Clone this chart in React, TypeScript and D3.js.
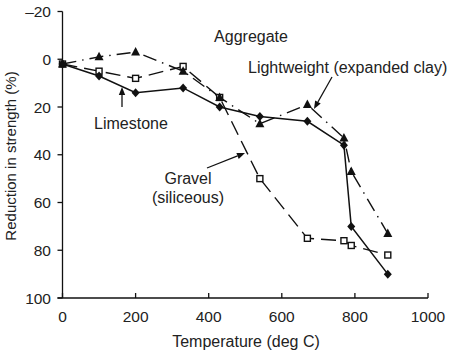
import React from "react";
import * as d3 from "d3";

const temps = [0, 100, 200, 330, 430, 540, 670, 770, 790, 890];
const limestone = [2, 7, 14, 12, 20, 24, 26, 36, 70, 90];
const gravel = [2, 5, 8, 3, 16, 50, 75, 76, 78, 82];
const lightweight = [2, -1, -3, 5, 16, 27, 19, 33, 47, 73];
const xTicks = [0, 200, 400, 600, 800, 1000];
const yTicks = [-20, 0, 20, 40, 60, 80, 100];

const W = 454, H = 353;
const FONT = "'Liberation Sans', Arial, Helvetica, sans-serif";

export default function App() {
  const x = d3.scaleLinear().domain([0, 1000]).range([62.5, 428]);
  const y = d3.scaleLinear().domain([-20, 100]).range([11.5, 298]);
  const line = d3.line<[number, number]>().x(d => x(d[0])).y(d => y(d[1]));
  const pts = (vals: number[]) => temps.map((t, i) => [t, vals[i]] as [number, number]);

  const arrow = (x1: number, y1: number, x2: number, y2: number, key: string) => {
    const ang = Math.atan2(y2 - y1, x2 - x1);
    const L = 8, Wd = 3.2;
    const bx = x2 - L * Math.cos(ang), by = y2 - L * Math.sin(ang);
    const px = -Math.sin(ang) * Wd, py = Math.cos(ang) * Wd;
    return (
      <g key={key}>
        <line x1={x1} y1={y1} x2={bx} y2={by} stroke="#111" strokeWidth={1.3} />
        <path d={`M${x2},${y2}L${bx + px},${by + py}L${bx - px},${by - py}Z`} fill="#111" />
      </g>
    );
  };

  return (
    <svg width={W} height={H} style={{ position: "absolute", left: 0, top: 0, background: "#fff" }} fontFamily={FONT}>
      {/* axes */}
      <line x1={x(0)} y1={y(-20)} x2={x(0)} y2={y(100)} stroke="#111" strokeWidth={1.3} />
      <line x1={x(0) - 5} y1={y(100)} x2={x(1000)} y2={y(100)} stroke="#111" strokeWidth={1.3} />
      {yTicks.map(t => (
        <g key={"yt" + t}>
          <line x1={x(0) - 5} x2={x(0)} y1={y(t)} y2={y(t)} stroke="#111" strokeWidth={1.3} />
          <text x={51} y={y(t)} dy="0.36em" textAnchor="end" fontSize={15.5} fill="#222">
            {t < 0 ? "\u2013" + Math.abs(t) : t}
          </text>
        </g>
      ))}
      {xTicks.map(t => (
        <g key={"xt" + t}>
          <line x1={x(t)} x2={x(t)} y1={y(100)} y2={y(100) - 5} stroke="#111" strokeWidth={1.3} />
          <text x={x(t)} y={322} textAnchor="middle" fontSize={15.5} fill="#222">{t}</text>
        </g>
      ))}
      <text x={246} y={347} textAnchor="middle" fontSize={16} fill="#222">Temperature (deg C)</text>
      <text transform={`translate(16,156) rotate(-90)`} textAnchor="middle" fontSize={15} fill="#222">
        Reduction in strength (%)
      </text>

      {/* series lines */}
      <path d={line(pts(gravel)) || ""} fill="none" stroke="#111" strokeWidth={1.4} strokeDasharray="15,7" />
      <path d={line(pts(lightweight)) || ""} fill="none" stroke="#111" strokeWidth={1.4} strokeDasharray="14,6,1.5,6" />
      <path d={line(pts(limestone)) || ""} fill="none" stroke="#111" strokeWidth={1.5} />

      {/* markers */}
      {pts(gravel).map((p, i) => (
        <rect key={"g" + i} x={x(p[0]) - 3} y={y(p[1]) - 3} width={6} height={6} fill="#fff" stroke="#111" strokeWidth={1.4} />
      ))}
      {pts(lightweight).map((p, i) => {
        const cx = x(p[0]), cy = y(p[1]);
        return <path key={"l" + i} d={`M${cx},${cy - 5}L${cx + 4.5},${cy + 3.5}L${cx - 4.5},${cy + 3.5}Z`} fill="#111" />;
      })}
      {pts(limestone).map((p, i) => {
        const cx = x(p[0]), cy = y(p[1]);
        return <path key={"s" + i} d={`M${cx},${cy - 4.5}L${cx + 4},${cy}L${cx},${cy + 4.5}L${cx - 4},${cy}Z`} fill="#111" />;
      })}

      {/* annotations */}
      <text x={251} y={42} textAnchor="middle" fontSize={16} fill="#222">Aggregate</text>
      <text x={248} y={73} fontSize={16} fill="#222">Lightweight (expanded clay)</text>
      <text x={131} y={129} textAnchor="middle" fontSize={16} fill="#222">Limestone</text>
      <text x={188} y={184} textAnchor="middle" fontSize={16} fill="#222">Gravel</text>
      <text x={188} y={203} textAnchor="middle" fontSize={16} fill="#222">(siliceous)</text>
      {arrow(122, 107, 122, 87, "a1")}
      {arrow(332, 77, 314, 109, "a2")}
      {arrow(207, 168, 245, 153, "a3")}
    </svg>
  );
}
